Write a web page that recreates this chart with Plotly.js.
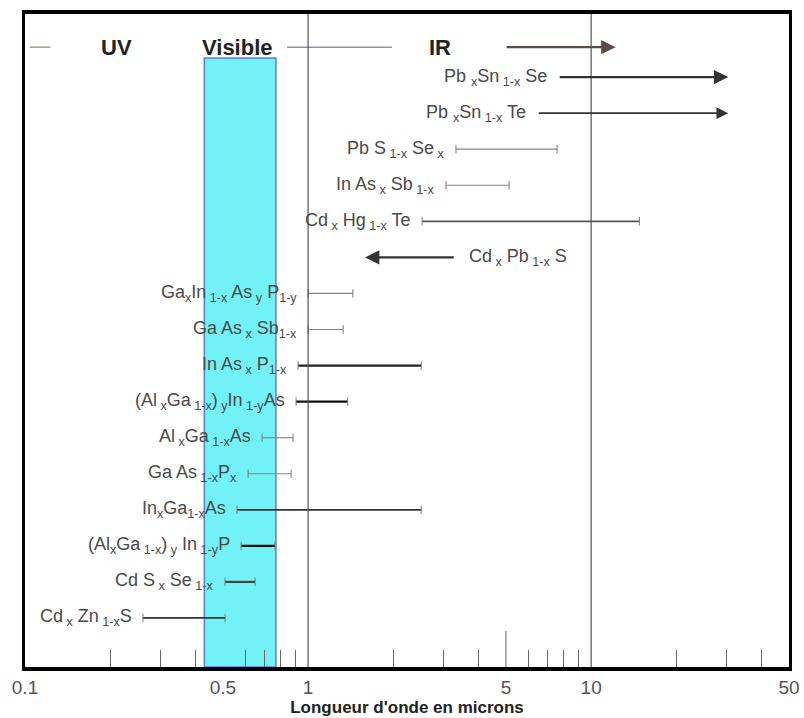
<!DOCTYPE html>
<html>
<head>
<meta charset="utf-8">
<script src="https://cdn.plot.ly/plotly-3.0.1.min.js"></script>
<style>html,body{margin:0;padding:0;background:#fff;}#chart{width:804px;height:718px;}</style>
</head>
<body>
<div id="chart"></div>
<script>
// ---- Data (wavelength ranges in microns) ----
const materials = [
  "Pb <sub>x</sub>Sn<sub> 1-x</sub> Se",
  "Pb <sub>x</sub>Sn<sub> 1-x</sub> Te",
  "Pb S<sub> 1-x</sub> Se<sub> x</sub>",
  "In As<sub> x</sub> Sb<sub> 1-x</sub>",
  "Cd<sub> x</sub> Hg<sub> 1-x</sub> Te",
  "Cd<sub> x</sub> Pb<sub> 1-x</sub> S",
  "Ga<sub>x</sub>In<sub> 1-x</sub> As<sub> y</sub> P<sub>1-y</sub>",
  "Ga As<sub> x</sub> Sb<sub>1-x</sub>",
  "In As<sub> x</sub> P<sub>1-x</sub>",
  "(Al<sub> x</sub>Ga<sub> 1-x</sub>)<sub> y</sub>In<sub> 1-y</sub>As",
  "Al<sub> x</sub>Ga<sub> 1-x</sub>As",
  "Ga As<sub> 1-x</sub>P<sub>x</sub>",
  "In<sub>x</sub>Ga<sub>1-x</sub>As",
  "(Al<sub>x</sub>Ga<sub> 1-x</sub>)<sub> y</sub> In<sub> 1-y</sub>P",
  "Cd S<sub> x</sub> Se<sub> 1-x</sub>",
  "Cd<sub> x</sub> Zn<sub> 1-x</sub>S"
];
const rangeStart = [7.65, 6.45, 3.33, 3.07, 2.53, 3.31, 1.00, 1.00, 0.922, 0.907, 0.688, 0.614, 0.561, 0.580, 0.509, 0.261];
const rangeEnd   = [30.5, 30.5, 7.58, 5.13, 14.8, 1.59, 1.44, 1.33, 2.51, 1.38, 0.885, 0.871, 2.51, 0.764, 0.650, 0.509];
const openEnded  = [true, true, false, false, false, true, false, false, false, false, false, false, false, false, false, false];

const regionNames   = ["UV", "Visible", "IR"];
const regionCenters = [0.211, 0.561, 2.93];
const uvLine   = [0.104, 0.123];
const visLine  = [0.843, 1.98];
const irArrow  = [4.97, 12.2];
const visibleBand = [0.43, 0.77];

const tickValues = [0.1, 0.5, 1, 5, 10, 50];
const tickLabels = ["0.1", "0.5", "1", "5", "10", "50"];
const gridValues = [1, 10];
const minorTickValues = [0.2,0.3,0.4,0.6,0.7,0.8,0.9,2,3,4,6,7,8,9,20,30,40];
const xTitle = "Longueur d'onde en microns";

// ---- Styles (kept separate from data) ----
const rowStyle = [
  {c:"#333", w:2.2}, {c:"#333", w:1.8}, {c:"#8a8584", w:1.2}, {c:"#8a8584", w:1.2},
  {c:"#555", w:1.8}, {c:"#333", w:2.2}, {c:"#8a8584", w:1.2}, {c:"#8a8584", w:1.2},
  {c:"#222", w:2.2}, {c:"#111", w:2.2}, {c:"#8a8584", w:1.2}, {c:"#8a8584", w:1.2},
  {c:"#333", w:1.8}, {c:"#111", w:2.2}, {c:"#444", w:2.2}, {c:"#333", w:1.8}
];
const HEADER_Y = -0.83, BAND_TOP = -0.53, Y_TOP = -1.75, Y_BOTTOM = 16.36;
const labelFont = {family: "Liberation Sans, Arial, sans-serif", size: 18, color: "#4a4a4a"};

const traces = [];
const annotations = [];
const shapes = [];

// visible band
shapes.push({type:"rect", xref:"x", yref:"y", x0:visibleBand[0], x1:visibleBand[1], y0:BAND_TOP, y1:Y_BOTTOM,
  fillcolor:"#72f1f6", line:{color:"#5a7fe0", width:1.5}, layer:"below"});
// grid lines at decades
gridValues.forEach(g => shapes.push({type:"line", xref:"x", yref:"paper", x0:g, x1:g, y0:0, y1:1,
  line:{color:"#555", width:1.2}, layer:"above"}));
// taller tick at 5
shapes.push({type:"line", xref:"x", yref:"paper", x0:5, x1:5, y0:0, y1:0.055, line:{color:"#666", width:1}});

// material ranges
materials.forEach((m, i) => {
  const s = rowStyle[i];
  const a = rangeStart[i], b = rangeEnd[i];
  if (openEnded[i]) {
    annotations.push({x:Math.log10(b), y:i, ax:Math.log10(a), ay:i, axref:"x", ayref:"y", xref:"x", yref:"y",
      text:"", showarrow:true, arrowhead:2, arrowsize:1.3, arrowwidth:s.w, arrowcolor:s.c, standoff:0, startstandoff:0});
  } else {
    traces.push({type:"scatter", mode:"lines+markers", x:[a, b], y:[i, i],
      line:{color:s.c, width:s.w}, hoverinfo:"skip", showlegend:false,
      marker:{symbol:"line-ns-open", size:6, line:{color:"#777", width:1}, color:"#777"}});
  }
  const leftOfLine = !(openEnded[i] && b < a);
  annotations.push({xref:"x", yref:"y", x:Math.log10(a), y:i, text:m, showarrow:false,
    xanchor: leftOfLine ? "right" : "left", xshift: leftOfLine ? -9 : 12, yanchor:"middle", font:labelFont});
});

// header: spectral regions
regionNames.forEach((r, i) => annotations.push({xref:"x", yref:"y", x:Math.log10(regionCenters[i]), y:HEADER_Y,
  text:"<b>"+r+"</b>", showarrow:false, xanchor:"center", yanchor:"middle",
  font:{family:"Liberation Sans, Arial, sans-serif", size:22, color:"#222"}}));
traces.push({type:"scatter", mode:"lines", x:uvLine, y:[HEADER_Y, HEADER_Y], line:{color:"#a89c90", width:1.5}, hoverinfo:"skip", showlegend:false});
traces.push({type:"scatter", mode:"lines", x:visLine, y:[HEADER_Y, HEADER_Y], line:{color:"#8d93a0", width:1.5}, hoverinfo:"skip", showlegend:false});
annotations.push({x:Math.log10(irArrow[1]), y:HEADER_Y, ax:Math.log10(irArrow[0]), ay:HEADER_Y, axref:"x", ayref:"y", xref:"x", yref:"y",
  text:"", showarrow:true, arrowhead:2, arrowsize:1.2, arrowwidth:2.4, arrowcolor:"#5a4c44", standoff:0});

const layout = {
  width:804, height:718,
  margin:{l:25, r:15, t:14, b:51},
  paper_bgcolor:"#fff", plot_bgcolor:"#fff",
  showlegend:false,
  xaxis:{type:"log", range:[Math.log10(0.1), Math.log10(50)], tickvals:tickValues, ticktext:tickLabels,
    ticks:"", showgrid:false, zeroline:false, showline:true, mirror:true, linecolor:"#000", linewidth:4,
    tickfont:{family:"Liberation Sans, Arial, sans-serif", size:19, color:"#555"},
    minor:{tickvals:minorTickValues, ticks:"inside", ticklen:17, tickcolor:"#666", tickwidth:1, showgrid:false},
    title:{text:"<b>"+xTitle+"</b>", font:{family:"Liberation Sans, Arial, sans-serif", size:17, color:"#222"}, standoff:2}},
  yaxis:{range:[Y_BOTTOM, Y_TOP], showticklabels:false, ticks:"", showgrid:false, zeroline:false,
    showline:true, mirror:true, linecolor:"#000", linewidth:3},
  shapes:shapes, annotations:annotations
};
Plotly.newPlot("chart", traces, layout, {displayModeBar:false, staticPlot:true});
</script>
</body>
</html>
